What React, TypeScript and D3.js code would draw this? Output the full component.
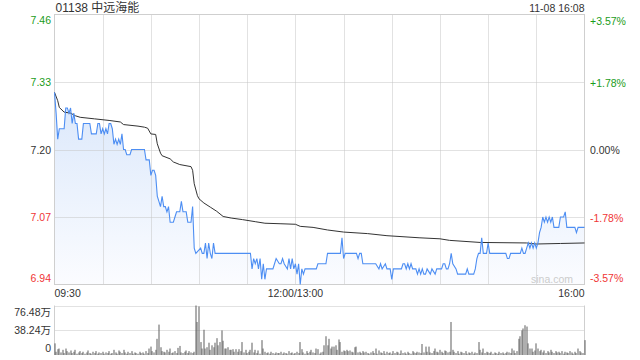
import React from 'react';
import * as d3 from 'd3';

const title = '01138 中远海能';
const timestamp = '11-08 16:08';
const prevClose = 7.2;
const priceTicks = [7.46, 7.33, 7.2, 7.07, 6.94];
const pctTicks = ['+3.57%', '+1.78%', '0.00%', '-1.78%', '-3.57%'];
const timeLabels = ['09:30', '12:00/13:00', '16:00'];
const volTicks = [76.48, 38.24, 0];
const volTickLabels = ['76.48万', '38.24万', '0'];

// [minute index since 09:30 (lunch removed), price]
const pricePoints: [number, number][] = [
  [0, 7.31], [1, 7.27], [2, 7.22], [3, 7.24], [6, 7.24], [7, 7.28], [8, 7.28], [9, 7.27], [10, 7.28],
  [11, 7.25], [12, 7.27], [13, 7.25], [14, 7.25], [15, 7.22], [17, 7.22], [18, 7.25], [22, 7.25],
  [23, 7.23], [26, 7.23], [27, 7.25], [28, 7.25], [29, 7.23], [30, 7.24], [31, 7.23], [32, 7.24],
  [33, 7.23], [34, 7.25], [35, 7.25], [36, 7.24], [37, 7.21], [38, 7.22], [39, 7.21], [40, 7.22],
  [41, 7.21], [42, 7.23], [43, 7.2], [44, 7.2], [45, 7.19], [47, 7.19], [48, 7.2], [56, 7.2],
  [57, 7.18], [59, 7.18], [60, 7.15], [61, 7.16], [62, 7.16], [63, 7.15], [64, 7.11], [65, 7.1],
  [66, 7.09], [67, 7.11], [68, 7.09], [69, 7.09], [70, 7.08], [71, 7.09], [72, 7.06], [74, 7.06],
  [75, 7.07], [76, 7.08], [78, 7.08], [79, 7.1], [80, 7.08], [82, 7.08], [83, 7.06], [85, 7.06],
  [86, 7.09], [87, 7.01], [88, 7.0], [91, 7.01], [92, 7.0], [93, 7.0], [94, 7.02], [95, 6.99],
  [96, 7.02], [97, 7.0], [98, 6.99], [99, 7.02], [100, 7.0], [122, 7.0], [123, 6.97], [124, 6.99],
  [125, 6.98], [126, 6.99], [127, 6.97], [128, 6.99], [129, 6.95], [130, 6.98], [131, 6.95],
  [132, 6.97], [136, 6.97], [137, 6.98], [138, 6.99], [140, 6.98], [141, 6.98], [142, 6.99],
  [143, 6.98], [145, 6.97], [146, 6.99], [147, 6.97], [148, 6.99], [149, 6.97], [150, 6.98],
  [151, 6.96], [152, 6.98], [153, 6.94], [154, 6.97], [155, 6.96], [156, 6.97], [163, 6.97],
  [164, 6.98], [169, 6.98], [170, 7.0], [178, 7.0], [179, 7.03], [180, 6.99], [181, 7.0],
  [188, 7.0], [189, 6.99], [190, 7.0], [191, 7.0], [192, 6.98], [200, 6.98], [202, 6.97],
  [203, 6.98], [204, 6.97], [206, 6.98], [207, 6.97], [209, 6.97], [210, 6.95], [211, 6.97],
  [216, 6.97], [217, 6.98], [218, 6.98], [219, 6.97], [220, 6.98], [221, 6.97], [222, 6.98],
  [223, 6.97], [225, 6.97], [226, 6.96], [227, 6.97], [228, 6.96], [229, 6.97], [230, 6.96],
  [231, 6.96], [232, 6.97], [234, 6.96], [235, 6.97], [237, 6.96], [238, 6.97], [241, 6.97],
  [242, 6.98], [243, 6.98], [244, 6.97], [245, 6.97], [246, 6.98], [247, 7.0], [248, 6.98],
  [250, 6.97], [251, 6.96], [256, 6.96], [257, 6.97], [258, 6.96], [261, 6.96], [262, 6.97],
  [263, 6.99], [264, 7.0], [265, 7.0], [266, 7.03], [267, 7.0], [269, 7.0], [270, 7.02],
  [271, 7.0], [281, 7.0], [282, 6.99], [283, 6.99], [284, 7.0], [290, 7.0], [291, 7.01],
  [292, 7.0], [293, 7.0], [294, 7.01], [295, 7.02], [296, 7.01], [297, 7.02], [298, 7.01],
  [299, 7.02], [300, 7.01], [301, 7.02], [302, 7.04], [303, 7.05], [304, 7.07], [305, 7.06],
  [306, 7.07], [307, 7.06], [308, 7.07], [309, 7.06], [310, 7.07], [311, 7.05], [314, 7.05],
  [315, 7.07], [317, 7.07], [318, 7.08], [319, 7.05], [324, 7.05], [325, 7.04], [326, 7.05],
  [330, 7.05],
];

const avgMinutes = [0, 2, 3, 4, 6, 10, 13, 16, 25, 34, 41, 43, 52, 56, 58, 60, 63, 64, 66, 67,
  72, 74, 78, 85, 86, 87, 89, 90, 93, 97, 101, 105, 110, 117, 125, 131, 141, 150, 153, 161,
  170, 180, 195, 207, 217, 227, 240, 246, 265, 294, 300, 315, 330];
const avgValues = [7.31, 7.294, 7.281, 7.278, 7.272, 7.27, 7.265, 7.262, 7.259, 7.256,
  7.253, 7.248, 7.245, 7.243, 7.241, 7.23, 7.229, 7.211, 7.193, 7.188,
  7.182, 7.176, 7.171, 7.167, 7.16, 7.134, 7.111, 7.105, 7.097, 7.089,
  7.081, 7.071, 7.068, 7.065, 7.061, 7.058, 7.057, 7.056, 7.052, 7.05,
  7.045, 7.041, 7.038, 7.034, 7.032, 7.03, 7.028, 7.025, 7.021, 7.02,
  7.018, 7.019, 7.02];

// volume per minute, 万 shares
const volumes = [
  18, 5, 9, 10, 4, 8, 3, 10, 6, 4,
  7, 3, 5, 8, 2, 4, 6, 3, 5, 2,
  4, 7, 3, 2, 5, 3, 6, 2, 4, 3,
  5, 2, 4, 3, 6, 2, 3, 8, 4, 2,
  7, 5, 3, 8, 4, 2, 5, 3, 6, 2,
  4, 3, 2, 5, 3, 4, 2, 6, 3, 10,
  13, 6, 4, 8, 25, 47, 12, 6, 5, 4,
  8, 5, 10, 3, 4, 6, 3, 11, 14, 4,
  3, 5, 7, 3, 6, 4, 3, 5, 76.48, 51,
  75, 20, 10, 39, 10, 12, 19, 8, 15, 12,
  19, 26, 15, 20, 38, 22, 10, 10, 12, 8,
  8, 9, 5, 9, 5, 9, 6, 20, 4, 8,
  3, 5, 8, 19, 4, 8, 3, 7, 2, 23,
  10, 5, 3, 4, 2, 5, 3, 2, 4, 3,
  3, 5, 2, 4, 3, 2, 6, 3, 4, 2,
  3, 5, 3, 20, 9, 4, 2, 6, 3, 5,
  8, 4, 3, 10, 9, 2, 4, 5, 15, 29,
  15, 25, 10, 13, 13, 15, 8, 24, 20, 5,
  7, 6, 8, 6, 7, 5, 4, 12, 13, 4,
  5, 3, 6, 4, 5, 3, 2, 4, 6, 3,
  10, 2, 7, 4, 3, 6, 2, 5, 3, 4,
  2, 6, 3, 5, 4, 2, 7, 3, 4, 2,
  5, 3, 2, 6, 4, 3, 5, 4, 3, 17,
  4, 13, 5, 13, 4, 3, 6, 10, 5, 4,
  8, 5, 3, 7, 6, 4, 5, 51, 8, 5,
  3, 6, 2, 5, 4, 3, 6, 2, 4, 3,
  5, 2, 4, 3, 20, 8, 4, 10, 3, 5,
  4, 3, 5, 2, 4, 3, 2, 5, 3, 4,
  2, 3, 5, 4, 3, 10, 7, 3, 6, 25,
  29, 38, 41, 46, 44, 18, 10, 10, 5, 7,
  18, 10, 6, 8, 4, 7, 3, 6, 4, 8,
  5, 3, 6, 4, 5, 3, 6, 2, 5, 4,
  3, 6, 4, 2, 5, 3, 10, 6, 4, 3,
  23,
];

const W = 640;
const H = 360;
const L = 54.5;
const R = 584.5;
const T = 14.5;
const B = 284.5;
const VT = 305.5;
const VB = 355;
const FONT = '"Liberation Sans", Arial, "Noto Sans CJK SC", sans-serif';
const GREEN = '#1a9c1a';
const RED = '#f03535';
const DARK = '#333';

export default function App() {
  const x = d3.scaleLinear().domain([0, 330]).range([L, R]);
  const y = d3.scaleLinear().domain([6.94, 7.46]).range([B, T]);
  const yv = d3.scaleLinear().domain([0, 76.48]).range([VB, VT]);

  const line = d3.line<[number, number]>().x((d) => x(d[0])).y((d) => y(d[1]));
  const area = d3.area<[number, number]>().x((d) => x(d[0])).y0(B).y1((d) => y(d[1]));
  const avgData: [number, number][] = avgMinutes.map((m, i) => [m, avgValues[i]]);

  const colorFor = (v: number) => (Math.abs(v - prevClose) < 1e-6 ? DARK : v > prevClose ? GREEN : RED);
  const gridX = d3.range(30, 330, 30);

  return (
    <svg width={W} height={H} style={{ position: 'absolute', left: 0, top: 0, display: 'block', background: '#fff' }}
      fontFamily={FONT}>
      <defs>
        <linearGradient id="fillGrad" gradientUnits="userSpaceOnUse" x1="0" y1={T} x2="0" y2={B}>
          <stop offset="0" stopColor="#cddff9" />
          <stop offset="1" stopColor="#fbfcff" />
        </linearGradient>
      </defs>
      <text x={L + 1} y={11.5} fontSize={12} fill={DARK}>{title}</text>
      <text x={R} y={11.5} fontSize={10.5} fill={DARK} textAnchor="end">{timestamp}</text>

      <path d={area(pricePoints) || ''} fill="url(#fillGrad)" />

      {priceTicks.slice(1, 4).map((p) => (
        <line key={p} x1={L} x2={R} y1={Math.round(y(p)) + 0.5} y2={Math.round(y(p)) + 0.5}
          stroke="#c4c4c4" strokeDasharray="1 1" />
      ))}
      {gridX.map((m) => (
        <line key={m} x1={Math.round(x(m)) + 0.5} x2={Math.round(x(m)) + 0.5} y1={T} y2={B}
          stroke="#c4c4c4" strokeDasharray="1 1" />
      ))}
      <rect x={L} y={T} width={R - L} height={B - T} fill="none" stroke="#cfcfcf" />

      <path d={line(avgData) || ''} fill="none" stroke="#333" strokeWidth={1} />
      <path d={line(pricePoints) || ''} fill="none" stroke="#4d8ef3" strokeWidth={1.1} />

      <text x={573} y={283} fontSize={10.5} fill="#cccccc" textAnchor="end">sina.com</text>

      {priceTicks.map((p, i) => {
        const yy = i === 0 ? 24 : i === priceTicks.length - 1 ? 281.5 : y(p) + 4;
        return (
          <g key={p}>
            <text x={51} y={yy} fontSize={10.5} textAnchor="end" fill={colorFor(p)}>{p.toFixed(2)}</text>
            <text x={590} y={yy + 0.5} fontSize={10.5} fill={colorFor(p)}>{pctTicks[i]}</text>
          </g>
        );
      })}

      <text x={L} y={297} fontSize={10.5} fill={DARK}>{timeLabels[0]}</text>
      <text x={x(150)} y={297} fontSize={10.5} fill={DARK} textAnchor="middle">{timeLabels[1]}</text>
      <text x={R} y={297} fontSize={10.5} fill={DARK} textAnchor="end">{timeLabels[2]}</text>

      {volTicks.slice(0, 2).map((v) => (
        <line key={v} x1={L} x2={R} y1={Math.round(yv(v)) + 0.5} y2={Math.round(yv(v)) + 0.5}
          stroke="#c4c4c4" strokeDasharray="1 1" />
      ))}
      <line x1={L} x2={L} y1={VT} y2={VB} stroke="#cfcfcf" />
      <line x1={R} x2={R} y1={VT} y2={VB} stroke="#cfcfcf" />
      {volumes.map((v, i) => (
        <rect key={i} x={Math.round(x(i)) - 0.5} y={yv(v)} width={1} height={VB - yv(v)} fill="#5f5f5f" />
      ))}
      {volTicks.map((v, i) => {
        const yy = i === 0 ? 316 : i === volTicks.length - 1 ? 351.5 : yv(v) + 3.5;
        return (
          <text key={v} x={51} y={yy} fontSize={10.5} textAnchor="end" fill={DARK}>{volTickLabels[i]}</text>
        );
      })}
    </svg>
  );
}
